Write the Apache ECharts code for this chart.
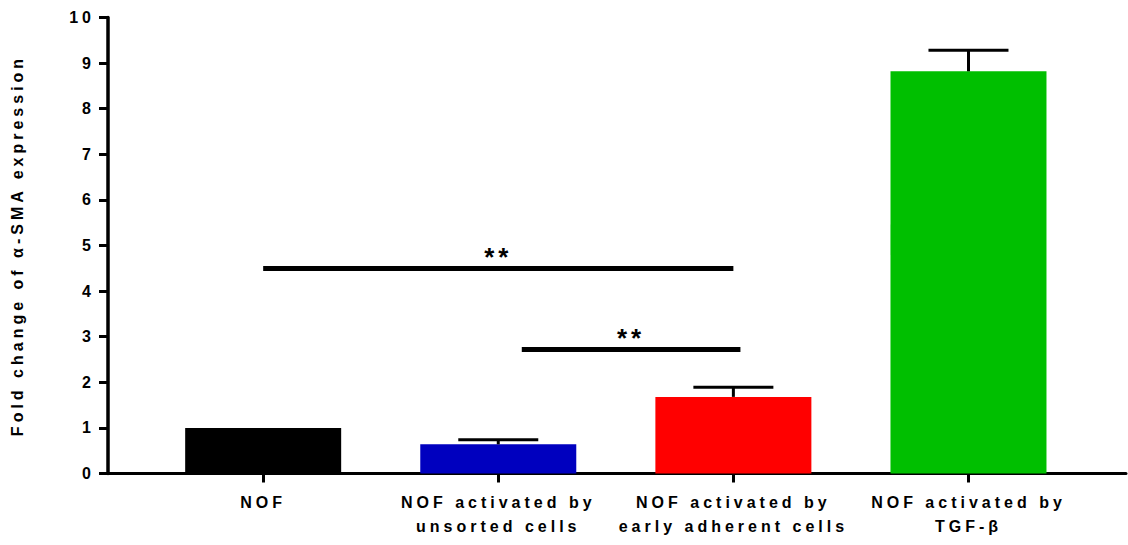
<!DOCTYPE html>
<html>
<head>
<meta charset="utf-8">
<script src="https://cdn.jsdelivr.net/npm/echarts@6/dist/echarts.min.js"></script>
<style>
  html, body { margin: 0; padding: 0; background: #fff; }
  #chart { width: 1128px; height: 545px; }
  /* the original figure uses widely spaced letters */
  #chart svg text { letter-spacing: 4px; }
</style>
</head>
<body>
<div id="chart"></div>
<script>
// groups on the x axis
const categories = [
  'NOF',
  'NOF activated by\nunsorted cells',
  'NOF activated by\nearly adherent cells',
  'NOF activated by\nTGF-β'
]
const positions = [1, 2, 3, 4]
const barColors = ['#000000', '#0000bf', '#ff0000', '#00bf00']

// fold change (mean) and top of error bar
const means = [1.0, 0.64, 1.68, 8.82]
const upper = [1.0, 0.74, 1.89, 9.28]

// significance brackets
const sigFrom = [1, 2.1]
const sigTo = [3, 3.03]
const sigLevel = [4.5, 2.73]
const sigText = ['**', '**']

const chart = echarts.init(document.getElementById('chart'), null, { renderer: 'svg' })

const font = 'Liberation Sans, Arial, sans-serif'

const barData = positions.map((p, i) => ({
  value: [p, means[i]],
  itemStyle: { color: barColors[i] },
}))
const errData = positions.map((p, i) => [p, means[i], upper[i]])
const sigData = sigFrom.map((f, i) => [
  { coord: [f, sigLevel[i]], label: { formatter: sigText[i] } },
  { coord: [sigTo[i], sigLevel[i]] },
])

const option = {
  animation: false,
  backgroundColor: '#fff',
  grid: { left: 108, right: 2, top: 17.5, bottom: 71.5 },
  xAxis: {
    type: 'value',
    min: 0.34,
    max: 4.67,
    splitLine: { show: false },
    axisLine: { show: true, lineStyle: { color: '#000', width: 3 } },
    axisTick: { show: true, customValues: positions, length: 9, lineStyle: { color: '#000', width: 3 } },
    axisLabel: {
      customValues: positions,
      formatter: v => categories[positions.indexOf(v)] || '',
      color: '#000',
      fontFamily: font,
      fontWeight: 'bold',
      fontSize: 16,
      lineHeight: 24,
      margin: 17,
    },
  },
  yAxis: {
    type: 'value',
    min: 0,
    max: 10,
    interval: 1,
    splitLine: { show: false },
    axisLine: { show: true, lineStyle: { color: '#000', width: 3.5 } },
    axisTick: { show: true, length: 9, lineStyle: { color: '#000', width: 3 } },
    axisLabel: {
      color: '#000',
      fontFamily: font,
      fontWeight: 'bold',
      fontSize: 16,
      margin: 13,
    },
    name: 'Fold change of α-SMA expression',
    nameLocation: 'middle',
    nameGap: 83,
    nameTextStyle: {
      color: '#000',
      fontFamily: font,
      fontWeight: 'bold',
      fontSize: 16,
    },
  },
  series: [
    {
      type: 'bar',
      data: barData,
      barWidth: 156,
      z: 2,
      markLine: {
        silent: true,
        symbol: 'none',
        lineStyle: { color: '#000', width: 5, type: 'solid' },
        label: {
          show: true,
          position: 'middle',
          color: '#000',
          fontFamily: font,
          fontWeight: 'bold',
          fontSize: 26,
          distance: -2,
        },
        data: sigData,
      },
    },
    {
      type: 'custom',
      z: 3,
      data: errData,
      renderItem: (params, api) => {
        const x = api.value(0)
        const lo = api.value(1)
        const hi = api.value(2)
        if (hi <= lo) return null
        const p0 = api.coord([x, lo])
        const p1 = api.coord([x, hi])
        const half = 40
        const st = { stroke: '#000', lineWidth: 3 }
        return {
          type: 'group',
          children: [
            { type: 'line', shape: { x1: p0[0], y1: p0[1], x2: p1[0], y2: p1[1] }, style: st },
            { type: 'line', shape: { x1: p1[0] - half, y1: p1[1], x2: p1[0] + half, y2: p1[1] }, style: st },
          ],
        }
      },
    },
  ],
}

chart.setOption(option)
</script>
</body>
</html>
